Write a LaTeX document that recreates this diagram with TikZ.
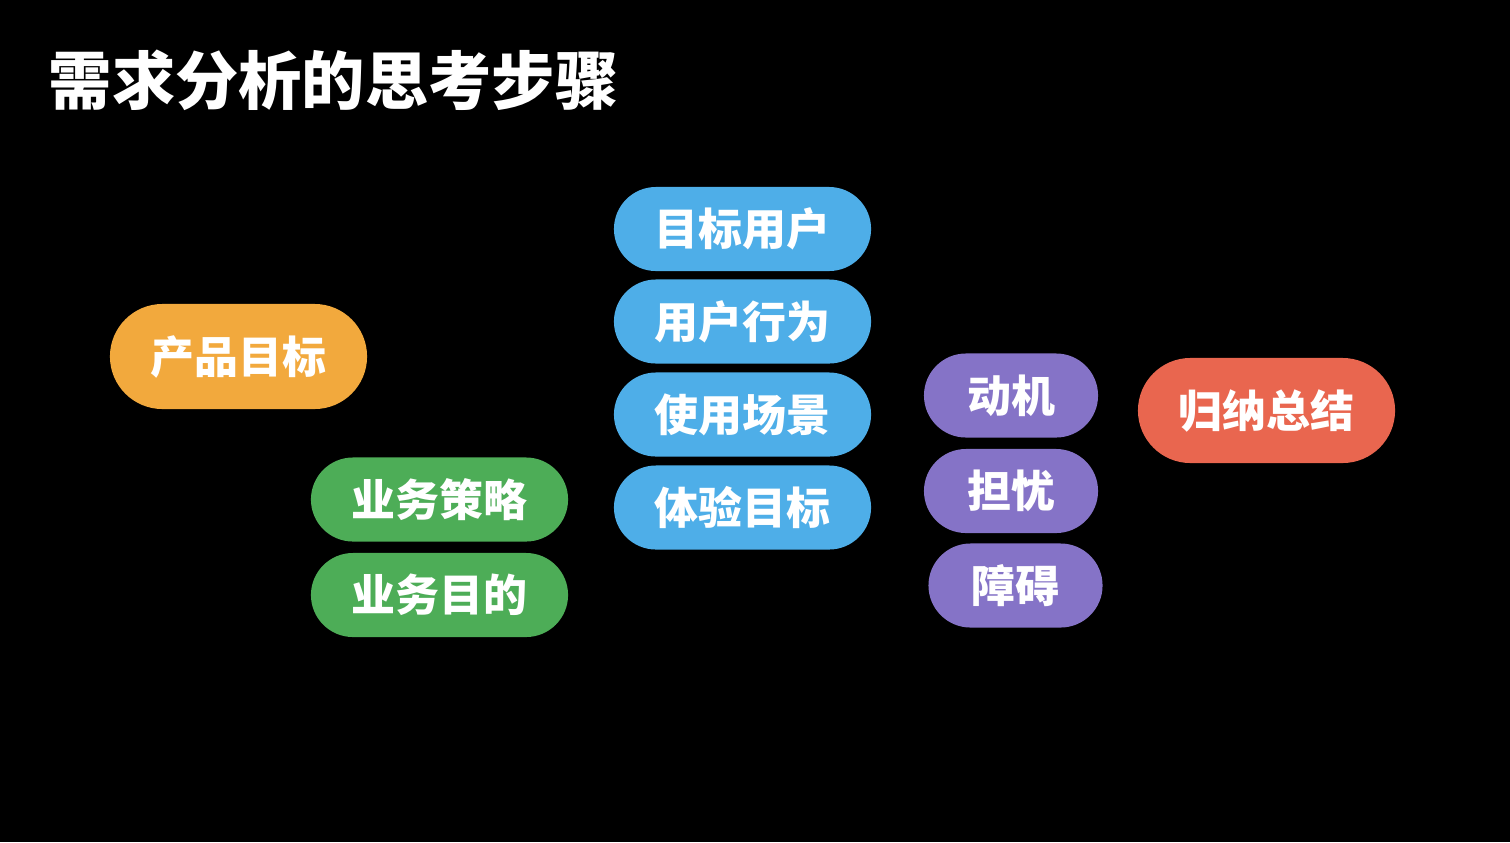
\documentclass[tikz,border=0pt]{standalone}
\usepackage{fontspec}
\newfontfamily\cjk{Noto Sans CJK SC}
\definecolor{goalorange}{HTML}{F2A93D}
\definecolor{bizgreen}{HTML}{4DAD57}
\definecolor{userblue}{HTML}{4EAEE8}
\definecolor{mindpurple}{HTML}{8573C7}
\definecolor{sumred}{HTML}{E9664F}
\tikzset{
  pill/.style={rectangle,rounded corners=0.42cm,minimum width=2.57cm,minimum height=0.84cm,
    inner sep=0pt,text=white,font=\cjk\bfseries\fontsize{12.5}{14}\selectfont},
  bigpill/.style={pill,rounded corners=0.525cm,minimum height=1.05cm},
  shortpill/.style={pill,minimum width=1.74cm}
}

\begin{document}
\begin{tikzpicture}[x=0.01cm,y=-0.01cm]
  \fill[black] (0,0) rectangle (1510,842);
  \useasboundingbox (0,0) rectangle (1510,842);
  \node[anchor=west,inner sep=0pt,text=white,font=\cjk\bfseries\fontsize{18}{20}\selectfont] (title) at (48,80) {需求分析的思考步骤};
  % product goal
  \node[bigpill,fill=goalorange] (goal) at (238.5,356.5) {产品目标};
  % business
  \node[pill,fill=bizgreen] (strategy) at (439.5,499.5) {业务策略};
  \node[pill,fill=bizgreen] (purpose) at (439.5,595) {业务目的};
  % users
  \node[pill,fill=userblue] (users) at (742.5,229) {目标用户};
  \node[pill,fill=userblue] (behavior) at (742.5,321.5) {用户行为};
  \node[pill,fill=userblue] (scene) at (742.5,414.5) {使用场景};
  \node[pill,fill=userblue] (experience) at (742.5,507.5) {体验目标};
  % motives
  \node[shortpill,fill=mindpurple] (motive) at (1011,395.5) {动机};
  \node[shortpill,fill=mindpurple] (worry) at (1011,491) {担忧};
  \node[shortpill,fill=mindpurple] (obstacle) at (1015.5,585.5) {障碍};
  % summary
  \node[bigpill,fill=sumred] (summary) at (1266.5,410.5) {归纳总结};
\end{tikzpicture}
\end{document}
